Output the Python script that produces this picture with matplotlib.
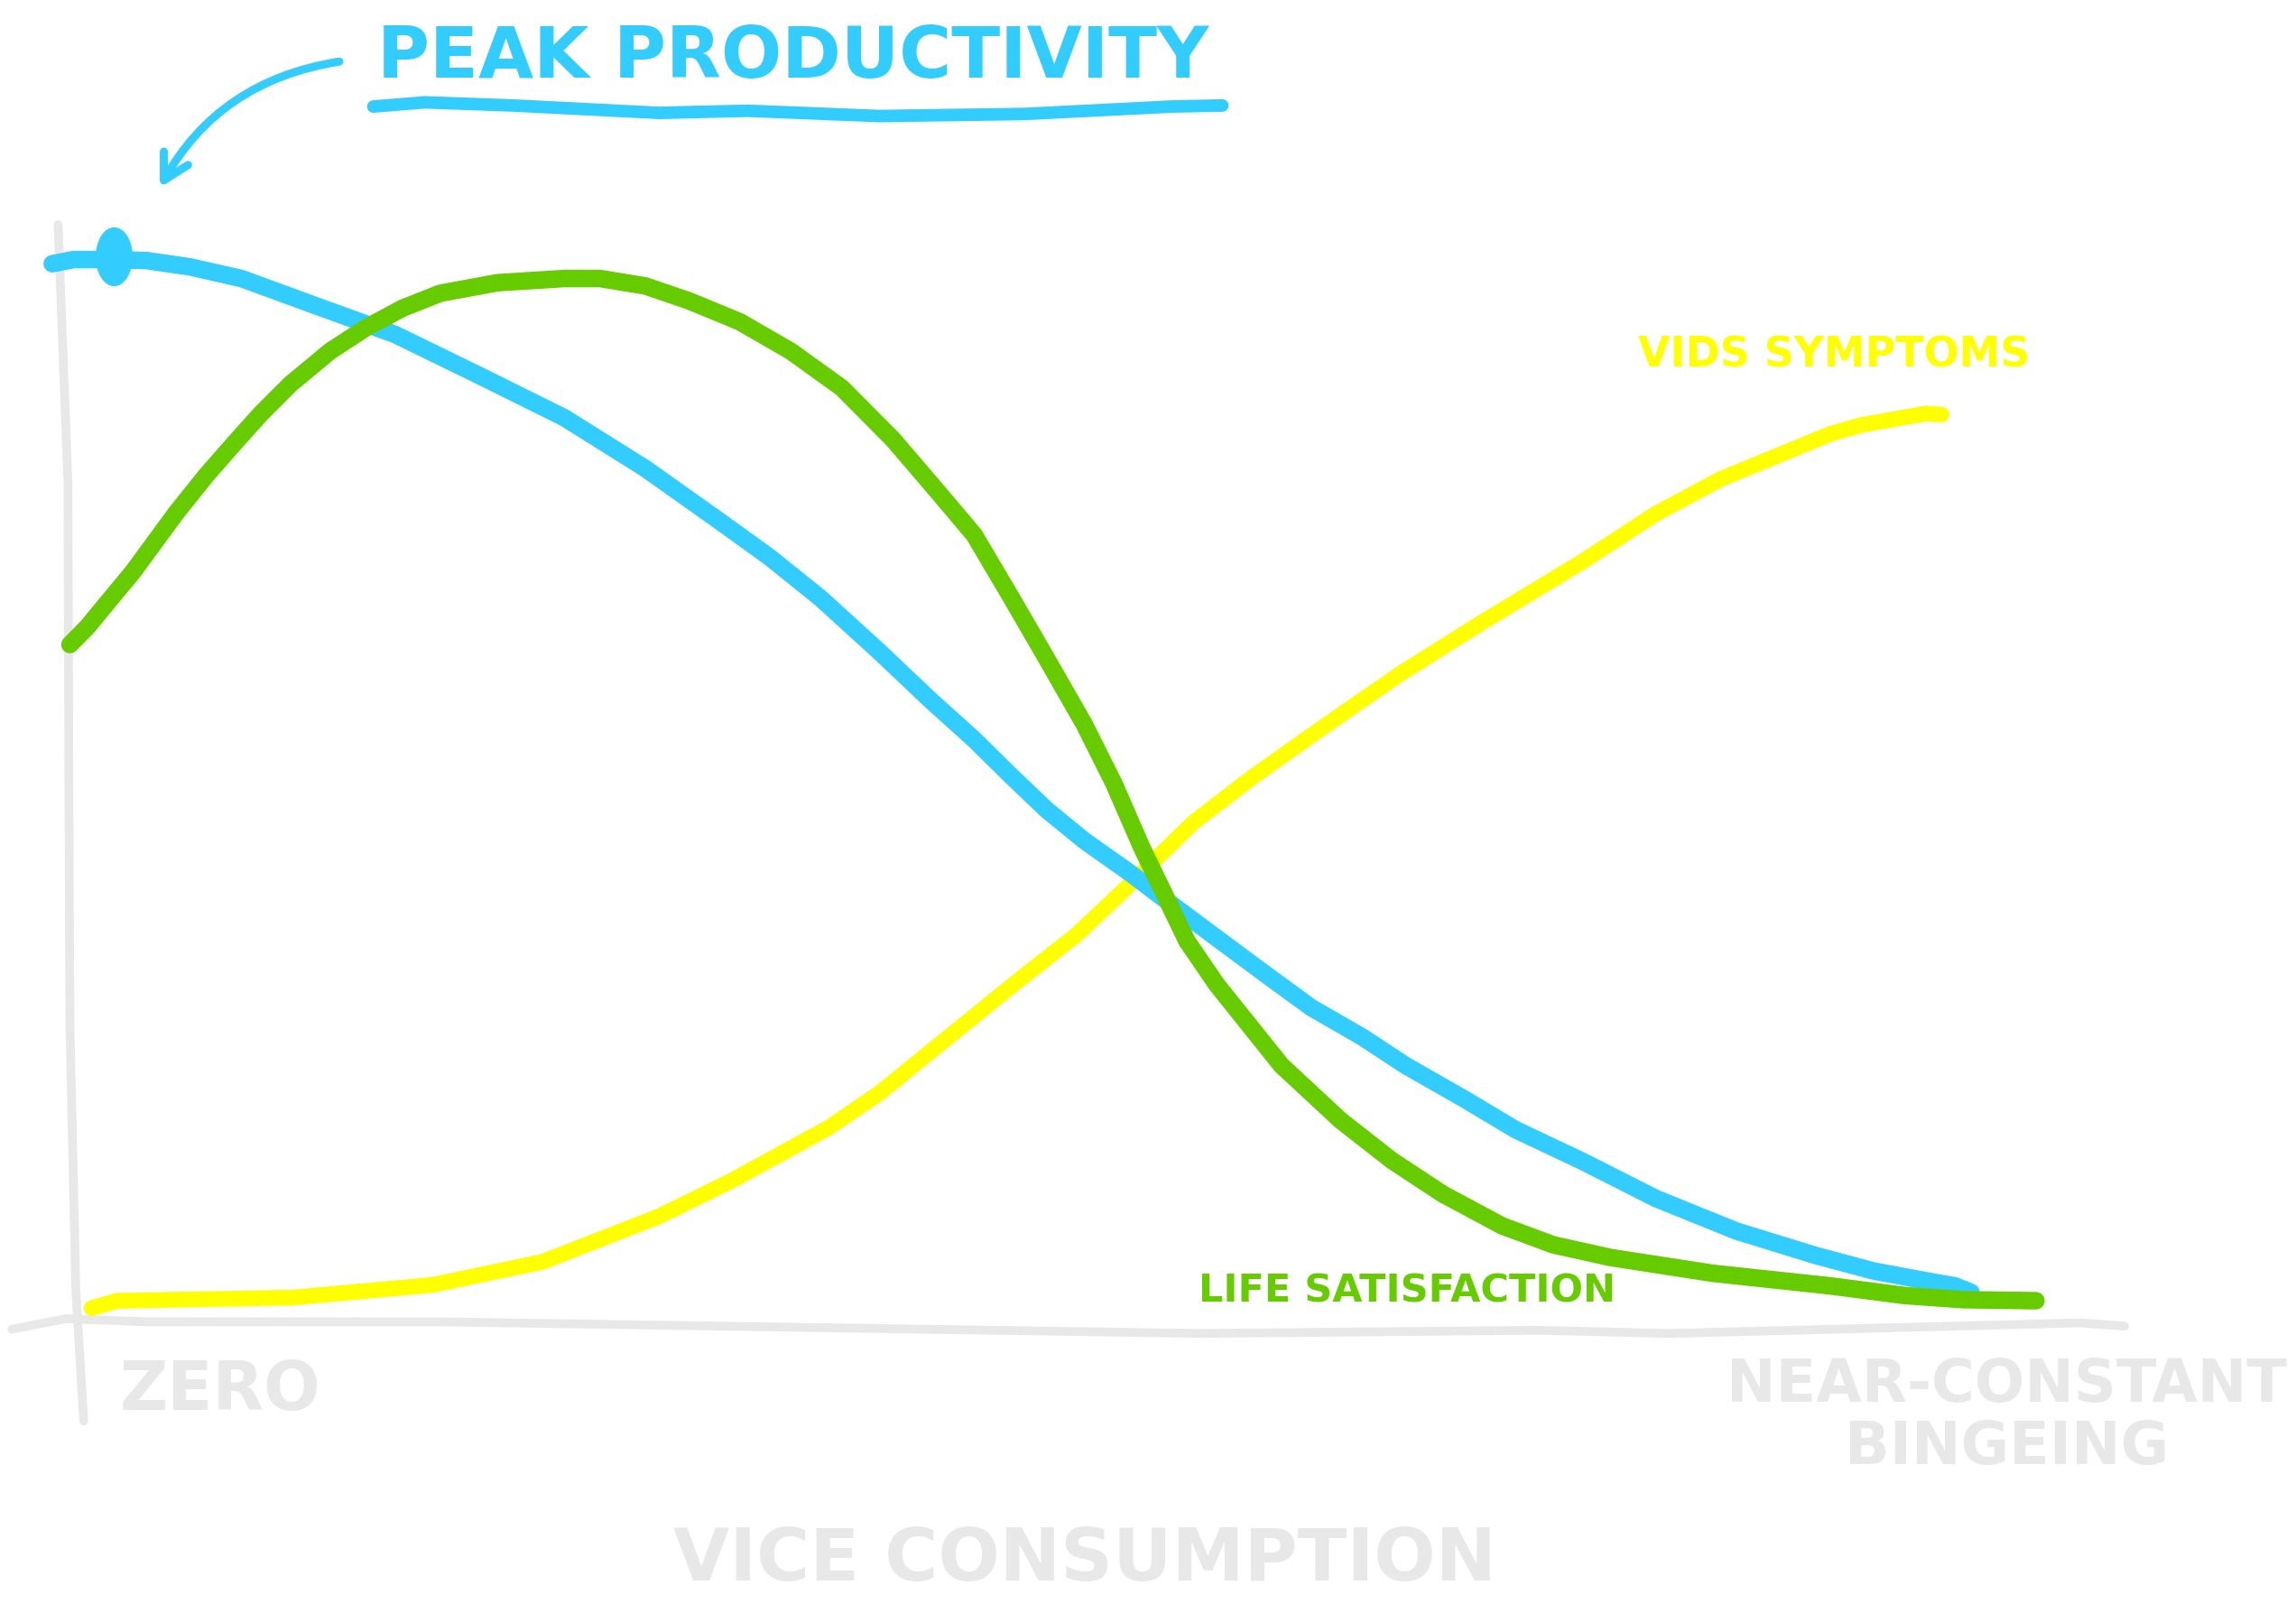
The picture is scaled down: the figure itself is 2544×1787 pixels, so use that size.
# Vice consumption sketch chart

import matplotlib.pyplot as plt
from matplotlib.path import Path
from matplotlib.transforms import Affine2D
from matplotlib.patches import FancyArrowPatch

BLUE = "#33ccff"
GREEN = "#66cc00"
YELLOW = "#ffff00"
GRAY = "#e8e8e8"

# productivity (blue)
prod_x = [-0.7, 0.4, 2.2, 4.1, 6.3, 8.9, 13.0, 16.7, 21.2, 25.3, 29.4, 33.1, 35.7,
          38.3, 41.3, 43.9, 46.1, 48.0, 49.8, 51.7, 53.9, 56.1, 58.4, 61.0, 63.2,
          65.8, 68.0, 71.0, 73.6, 77.0, 80.7, 84.8, 88.8, 91.8, 94.4, 95.9, 96.7]
prod_y = [99.3, 99.7, 99.7, 99.6, 99.0, 97.9, 95.1, 92.6, 88.5, 84.7, 79.9, 75.0, 71.5,
          67.6, 62.5, 57.9, 54.2, 50.7, 47.5, 44.6, 41.7, 38.6, 35.4, 31.8, 28.8,
          26.0, 23.3, 20.1, 17.2, 14.2, 10.7, 7.6, 5.3, 3.8, 2.9, 2.4, 1.8]

# life satisfaction (green)
life_x = [0.2, 1.1, 2.2, 3.4, 4.5, 5.6, 7.1, 8.6, 9.9, 11.4, 13.4, 15.2, 17.1, 19.0,
          21.9, 25.3, 27.1, 29.4, 31.6, 34.2, 36.8, 39.4, 42.0, 44.2, 46.1, 48.0,
          49.8, 51.7, 53.2, 54.6, 56.1, 56.9, 58.4, 61.7, 64.7, 67.3, 69.9, 72.9,
          75.5, 78.4, 83.6, 89.6, 93.3, 96.3, 100.0]
life_y = [63.2, 64.9, 67.4, 70.1, 72.9, 75.7, 79.2, 82.4, 85.1, 87.9, 91.0, 93.2, 95.1,
          96.5, 97.5, 97.9, 97.9, 97.2, 95.8, 93.8, 91.0, 87.5, 82.6, 77.8, 73.6,
          67.6, 61.8, 55.6, 50.0, 44.0, 38.2, 35.1, 31.0, 23.3, 18.1, 14.3, 11.1,
          8.1, 6.3, 5.1, 3.6, 2.4, 1.5, 1.1, 1.0]

# VIDS symptoms (yellow)
vids_x = [1.3, 2.6, 11.5, 18.6, 24.2, 30.1, 33.8, 38.7, 41.3, 44.2, 48.3, 51.3, 54.3,
          57.2, 60.2, 63.6, 67.7, 71.7, 77.0, 80.7, 84.0, 89.6, 91.1, 94.4, 95.2]
vids_y = [0.3, 1.0, 1.3, 2.5, 4.7, 9.0, 12.4, 17.4, 20.7, 25.1, 31.3, 35.7, 41.0,
          46.3, 50.6, 55.1, 60.4, 65.1, 71.1, 75.6, 78.9, 83.2, 84.0, 85.1, 85.0]

peak_x, peak_y = 2.4, 100.0

# hand-drawn axes
yaxis_x = [-0.4, 0.1, 0.15, 0.2, 0.5, 0.9]
yaxis_y = [103, 78.5, 47.9, 27, 2, -10.4]
xaxis_x = [-2.75, 0, 4.1, 19, 57.6, 74.7, 81.4, 102.2, 104.5]
xaxis_y = [-1.7, -0.7, -1.0, -1.0, -2.1, -1.8, -2.1, -1.1, -1.4]

fig = plt.figure(figsize=(25.44, 17.87), dpi=100)
ax = fig.add_axes([0, 0, 1, 1])
ax.set_xlim(-3.35, 113.2)
ax.set_ylim(-28.6, 124.3)
ax.axis("off")

round_style = dict(solid_capstyle="round", solid_joinstyle="round")

ax.plot(yaxis_x, yaxis_y, color=GRAY, lw=7, **round_style)
ax.plot(xaxis_x, xaxis_y, color=GRAY, lw=7, **round_style)

ax.plot(vids_x, vids_y, color=YELLOW, lw=12.5, **round_style)
ax.plot(prod_x, prod_y, color=BLUE, lw=14, **round_style)
ax.plot(life_x, life_y, color=GREEN, lw=14, **round_style)

# tall oval dot on the peak
oval = Path.unit_circle().transformed(Affine2D().scale(0.62, 1.0))
ax.plot([peak_x], [peak_y], marker=oval, markersize=46, color=BLUE, lw=0)

font = "DejaVu Sans"

# annotation
ax.text(15.8, 118.8, "PEAK PRODUCTIVITY", color=BLUE, fontsize=57, family=font,
        weight="bold", ha="left", va="center")
ul_x = [15.6, 18.2, 22.7, 30.1, 34.6, 41.3, 48.7, 56.1, 58.7]
ul_y = [114.2, 114.6, 114.3, 113.6, 113.8, 113.3, 113.5, 114.2, 114.3]
ax.plot(ul_x, ul_y, color=BLUE, lw=10, solid_capstyle="round")
arrow = FancyArrowPatch((14.0, 118.5), (4.7, 106.3),
                        connectionstyle="arc3,rad=0.25",
                        arrowstyle="->,head_length=20,head_width=11",
                        color=BLUE, lw=6.5, mutation_scale=1,
                        capstyle="round", joinstyle="round")
ax.add_patch(arrow)

ax.text(79.8, 90.6, "VIDS SYMPTOMS", color=YELLOW, fontsize=33, family=font,
        weight="bold", ha="left", va="center")
ax.text(57.5, 1.9, "LIFE SATISFACTION", color=GREEN, fontsize=31, family=font,
        weight="bold", ha="left", va="center")

ax.text(2.75, -7.6, "ZERO", color=GRAY, fontsize=53, family=font, weight="bold",
        ha="left", va="center")
ax.text(98.5, -10.0, "NEAR-CONSTANT\nBINGEING", color=GRAY, fontsize=47, family=font,
        weight="bold", ha="center", va="center", multialignment="center",
        linespacing=1.1)
ax.text(51.7, -23.6, "VICE CONSUMPTION", color=GRAY, fontsize=58, family=font,
        weight="bold", ha="center", va="center")

fig.savefig("out.png", dpi=100, facecolor="white")
